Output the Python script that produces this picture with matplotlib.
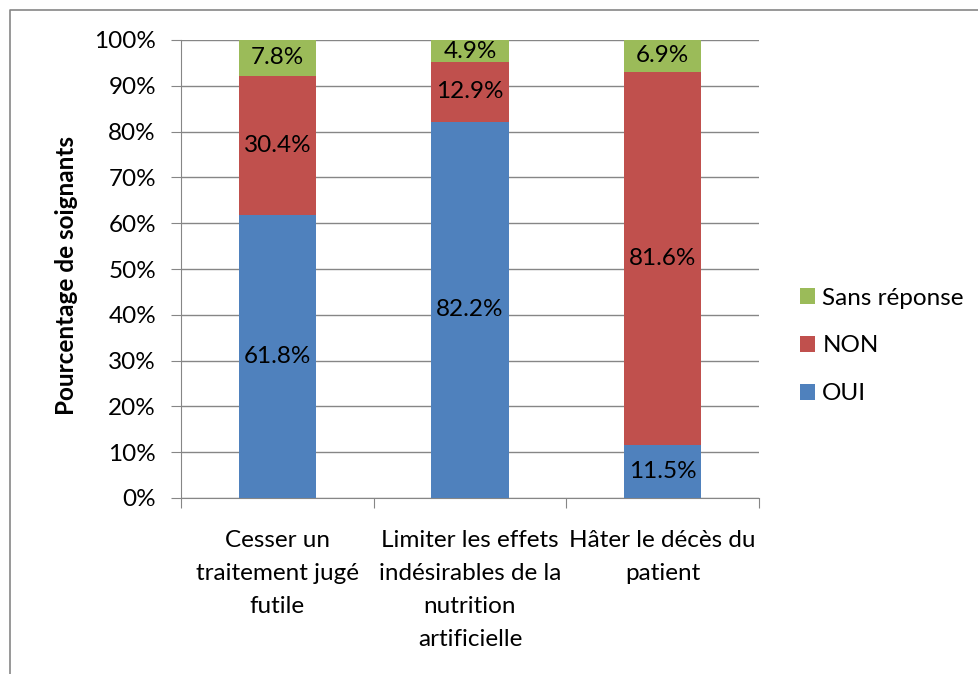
import numpy as np
import matplotlib.pyplot as plt

plt.rcParams['font.family'] = ['Lato', 'DejaVu Sans']

categories = ["Cesser un\ntraitement jugé\nfutile",
              "Limiter les effets\nindésirables de la\nnutrition\nartificielle",
              "Hâter le décès du\npatient"]
oui = [61.8, 82.2, 11.5]
non = [30.4, 12.9, 81.6]
sans = [7.8, 4.9, 6.9]
series = [("OUI", oui, "#4f81bd"), ("NON", non, "#c0504d"), ("Sans réponse", sans, "#9bbb59")]

fs = 17.5
fig = plt.figure(figsize=(9.79, 6.74), dpi=100)
ax = fig.add_axes([181/979, 1-498/674, (759-181)/979, (498-40)/674])

x = np.arange(len(categories))
bottom = np.zeros(len(categories))
handles = []
for name, vals, col in series:
    vals = np.array(vals)
    b = ax.bar(x, vals, 0.4, bottom=bottom, color=col, label=name, zorder=3)
    handles.append(b)
    for xi, v, bt in zip(x, vals, bottom):
        ax.text(xi, bt + v/2, f"{v:.1f}%", ha='center', va='center', fontsize=fs, zorder=4)
    bottom += vals

ax.set_xlim(-0.5, 2.5)
ax.set_ylim(0, 100)
ax.set_yticks(np.arange(0, 101, 10))
ax.set_yticklabels([f"{t}%" for t in range(0, 101, 10)], fontsize=fs)
ax.yaxis.grid(True, color='#868686', lw=1, zorder=0)
ax.set_xticks([-0.5, 0.5, 1.5, 2.5])
ax.set_xticklabels([])
ax.set_xticks(x, minor=True)
ax.set_xticklabels(categories, minor=True, fontsize=fs, linespacing=1.7)
ax.tick_params(axis='x', which='minor', length=0, pad=23)
ax.tick_params(axis='x', which='major', length=7, color='#868686', direction='out')
ax.tick_params(axis='y', length=7, color='#868686', pad=11)
for s in ['top', 'right']:
    ax.spines[s].set_visible(False)
ax.spines['left'].set_color('#868686')
ax.spines['bottom'].set_color('#868686')
ax.set_ylabel("Pourcentage de soignants", fontsize=fs, fontweight='bold')
ax.yaxis.set_label_coords(-0.178, 0.485)

fig.legend(handles[::-1], [h.get_label() for h in handles[::-1]], loc='center left',
           bbox_to_anchor=(800/979, 1-346/674), frameon=False, fontsize=fs,
           borderpad=0, borderaxespad=0,
           handlelength=0.62, handleheight=0.62, handletextpad=0.3, labelspacing=1.1)

# chart frame
fig.add_artist(plt.Line2D([10/979, 10/979, 1], [0, 1-10/674, 1-10/674],
                          transform=fig.transFigure, color='#868686', lw=1.2))

fig.savefig("out.png", dpi=100)
